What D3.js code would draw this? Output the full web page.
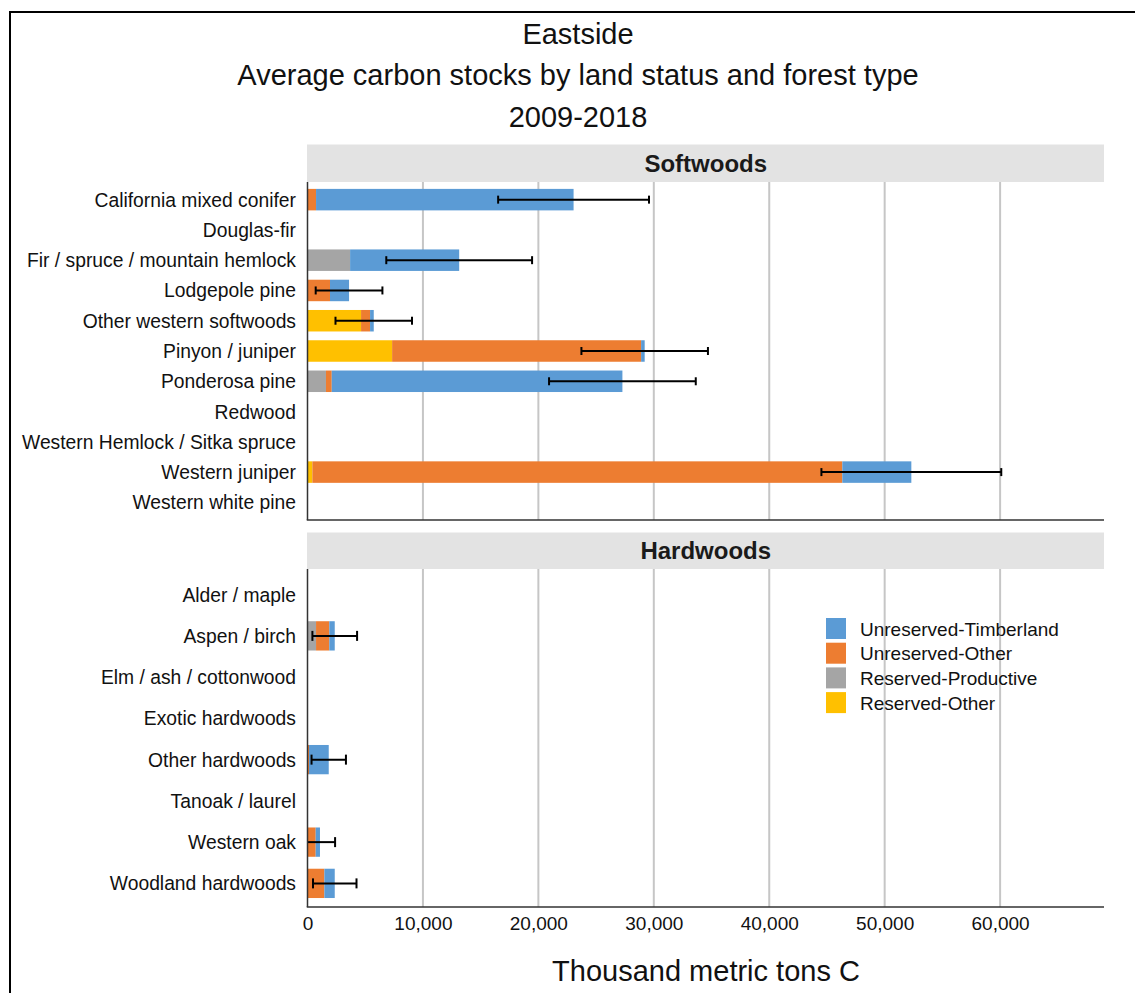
<!DOCTYPE html>
<html>
<head>
<meta charset="utf-8">
<script src="https://cdn.jsdelivr.net/npm/d3@7"></script>
<style>
  body { margin: 0; background: #fff; }
  svg { font-family: "Liberation Sans", Arial, sans-serif; }
</style>
</head>
<body>
<div id="chart"></div>
<script>
// categories
var softwoodCats = ["California mixed conifer", "Douglas-fir", "Fir / spruce / mountain hemlock",
  "Lodgepole pine", "Other western softwoods", "Pinyon / juniper", "Ponderosa pine", "Redwood",
  "Western Hemlock / Sitka spruce", "Western juniper", "Western white pine"];
var hardwoodCats = ["Alder / maple", "Aspen / birch", "Elm / ash / cottonwood", "Exotic hardwoods",
  "Other hardwoods", "Tanoak / laurel", "Western oak", "Woodland hardwoods"];

// series, drawn left to right in this order
var seriesNames = ["Reserved-Other", "Reserved-Productive", "Unreserved-Other", "Unreserved-Timberland"];
var legendNames = ["Unreserved-Timberland", "Unreserved-Other", "Reserved-Productive", "Reserved-Other"];

// softwood values (thousand metric tons C)
var softReservedOther  = [0, 0, 0, 0, 4640, 7330, 0, 0, 0, 420, 0];
var softReservedProd   = [0, 0, 3690, 0, 0, 0, 1600, 0, 0, 0, 0];
var softUnresOther     = [740, 0, 0, 1950, 780, 21570, 500, 0, 0, 45910, 0];
var softUnresTimber    = [22310, 0, 9450, 1650, 320, 310, 25180, 0, 0, 5980, 0];
var softErr            = [6535, 0, 6315, 2890, 3315, 5480, 6355, 0, 0, 7790, 0];

// hardwood values
var hardReservedOther  = [0, 0, 0, 0, 0, 0, 0, 0];
var hardReservedProd   = [0, 740, 0, 0, 0, 0, 0, 0];
var hardUnresOther     = [0, 1150, 0, 0, 130, 0, 710, 1460];
var hardUnresTimber    = [0, 470, 0, 0, 1710, 0, 370, 900];
var hardErr            = [0, 1935, 0, 0, 1490, 0, 1310, 1885];

var xTicks = [0, 10000, 20000, 30000, 40000, 50000, 60000];

var colors = {
  "Unreserved-Timberland": "#5b9bd5",
  "Unreserved-Other": "#ed7d31",
  "Reserved-Productive": "#a5a5a5",
  "Reserved-Other": "#ffc000"
};

var width = 1135, height = 993;
var svg = d3.select("#chart").append("svg")
  .attr("width", width)
  .attr("height", height);

// outer frame (right/bottom edges fall off the picture)
svg.append("rect")
  .attr("x", 10).attr("y", 12)
  .attr("width", 1200).attr("height", 1100)
  .attr("fill", "none").attr("stroke", "#000").attr("stroke-width", 2);

// titles
var titles = ["Eastside", "Average carbon stocks by land status and forest type", "2009-2018"];
svg.selectAll(".title").data(titles).enter().append("text")
  .attr("class", "title")
  .attr("x", 578)
  .attr("y", function(d, i) { return 43.5 + i * 41.5; })
  .attr("text-anchor", "middle")
  .attr("font-size", 29)
  .attr("fill", "#111")
  .text(function(d) { return d; });

var plotLeft = 307.5, plotRight = 1104;
var x = d3.scaleLinear().domain([0, 69000]).range([plotLeft, plotRight]);

function buildRows(cats, ro, rp, uo, ut, err) {
  return cats.map(function(c, i) {
    return {
      cat: c,
      "Reserved-Other": ro[i],
      "Reserved-Productive": rp[i],
      "Unreserved-Other": uo[i],
      "Unreserved-Timberland": ut[i],
      err: err[i]
    };
  });
}

/**
 * Draw one facet panel
 */
function drawPanel(name, rows, headerTop, plotTop, plotBottom, bandRange, capH) {
  // header strip
  svg.append("rect")
    .attr("x", plotLeft - 0.5).attr("y", headerTop)
    .attr("width", plotRight - plotLeft + 0.5).attr("height", plotTop - headerTop)
    .attr("fill", "#e3e3e3");
  svg.append("text")
    .attr("x", (plotLeft + plotRight) / 2)
    .attr("y", (headerTop + plotTop) / 2 + 8.5)
    .attr("text-anchor", "middle")
    .attr("font-size", 24).attr("font-weight", "bold")
    .attr("fill", "#1a1a1a")
    .text(name);

  var y = d3.scaleBand()
    .domain(rows.map(function(d) { return d.cat; }))
    .range(bandRange)
    .paddingInner(0.29)
    .paddingOuter(0.145);

  // grid lines
  svg.append("g").selectAll("line")
    .data(xTicks.slice(1)).enter().append("line")
    .attr("x1", function(d) { return x(d); }).attr("x2", function(d) { return x(d); })
    .attr("y1", plotTop).attr("y2", plotBottom)
    .attr("stroke", "#c6c6c6").attr("stroke-width", 2);

  // stacked bars
  var stack = d3.stack().keys(seriesNames)(rows);
  svg.append("g").selectAll("g")
    .data(stack).enter().append("g")
    .attr("fill", function(s) { return colors[s.key]; })
    .selectAll("rect")
    .data(function(s) { return s; }).enter().append("rect")
    .attr("x", function(d) { return x(d[0]); })
    .attr("width", function(d) { return x(d[1]) - x(d[0]); })
    .attr("y", function(d) { return y(d.data.cat); })
    .attr("height", y.bandwidth());

  // error bars
  var withErr = rows.filter(function(d) { return d.err > 0; });
  var eg = svg.append("g").selectAll("g")
    .data(withErr).enter().append("g")
    .attr("stroke", "#000").attr("stroke-width", 2);
  function total(d) {
    return seriesNames.reduce(function(a, k) { return a + d[k]; }, 0);
  }
  function cy(d) { return y(d.cat) + y.bandwidth() / 2; }
  eg.append("line")
    .attr("x1", function(d) { return x(Math.max(0, total(d) - d.err)); })
    .attr("x2", function(d) { return x(total(d) + d.err); })
    .attr("y1", cy).attr("y2", cy);
  eg.filter(function(d) { return total(d) - d.err > 0; }).append("line")
    .attr("x1", function(d) { return x(total(d) - d.err); })
    .attr("x2", function(d) { return x(total(d) - d.err); })
    .attr("y1", function(d) { return cy(d) - capH / 2; })
    .attr("y2", function(d) { return cy(d) + capH / 2; });
  eg.append("line")
    .attr("x1", function(d) { return x(total(d) + d.err); })
    .attr("x2", function(d) { return x(total(d) + d.err); })
    .attr("y1", function(d) { return cy(d) - capH / 2; })
    .attr("y2", function(d) { return cy(d) + capH / 2; });

  // category labels
  svg.append("g").selectAll("text")
    .data(rows).enter().append("text")
    .attr("x", 296)
    .attr("y", function(d) { return cy(d) + 7; })
    .attr("text-anchor", "end")
    .attr("font-size", 19.3)
    .attr("fill", "#111")
    .text(function(d) { return d.cat; });

  // axis lines
  svg.append("line")
    .attr("x1", plotLeft).attr("x2", plotLeft)
    .attr("y1", plotTop).attr("y2", plotBottom)
    .attr("stroke", "#333").attr("stroke-width", 1.5);
  svg.append("line")
    .attr("x1", plotLeft - 0.75).attr("x2", plotRight)
    .attr("y1", plotBottom).attr("y2", plotBottom)
    .attr("stroke", "#333").attr("stroke-width", 1.5);
}

drawPanel("Softwoods",
  buildRows(softwoodCats, softReservedOther, softReservedProd, softUnresOther, softUnresTimber, softErr),
  144.5, 182, 520, [184.5, 517.5], 8);
drawPanel("Hardwoods",
  buildRows(hardwoodCats, hardReservedOther, hardReservedProd, hardUnresOther, hardUnresTimber, hardErr),
  532.5, 569, 907, [574, 904], 10);

// x axis tick labels
var xAxis = d3.axisBottom(x)
  .tickValues(xTicks)
  .tickSize(0)
  .tickPadding(10)
  .tickFormat(d3.format(","));
var ax = svg.append("g")
  .attr("transform", "translate(0,907)")
  .call(xAxis);
ax.select(".domain").remove();
ax.selectAll("text")
  .attr("font-size", 19)
  .attr("fill", "#111")
  .attr("font-family", "Liberation Sans, Arial, sans-serif");

// x axis title
svg.append("text")
  .attr("x", 706).attr("y", 981)
  .attr("text-anchor", "middle")
  .attr("font-size", 29)
  .attr("fill", "#111")
  .text("Thousand metric tons C");

// legend
var legend = svg.append("g").selectAll("g")
  .data(legendNames).enter().append("g")
  .attr("transform", function(d, i) { return "translate(826," + (618 + i * 24.7) + ")"; });
legend.append("rect")
  .attr("width", 20).attr("height", 21)
  .attr("fill", function(d) { return colors[d]; });
legend.append("text")
  .attr("x", 34).attr("y", 17.5)
  .attr("font-size", 19)
  .attr("fill", "#111")
  .text(function(d) { return d; });
</script>
</body>
</html>
